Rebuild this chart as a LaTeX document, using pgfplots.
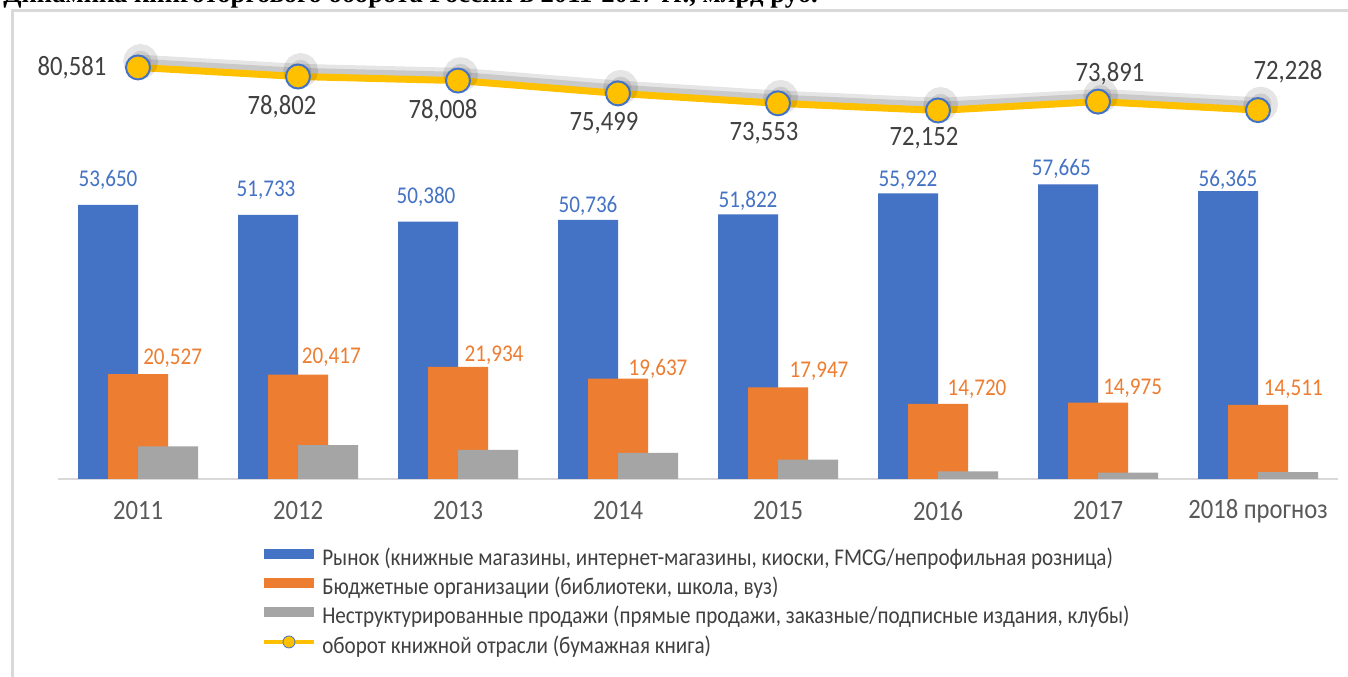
\documentclass[border=0pt]{standalone}
\usepackage{fontspec}
\setmainfont{Carlito}[FakeStretch=0.88]
\newfontfamily\titlefont{Liberation Serif}
\usepackage{pgfplots}
\pgfplotsset{compat=1.18}
\usepackage{pgfplotstable}

\definecolor{cblue}{HTML}{4472C4}
\definecolor{corange}{HTML}{ED7D31}
\definecolor{cgray}{HTML}{A5A5A5}
\definecolor{cyellow}{HTML}{FFC000}
\definecolor{ctext}{HTML}{404040}
\definecolor{ctick}{HTML}{595959}
\definecolor{cframe}{HTML}{D9D9D9}

% bars: x, value ; label: lx (bar centre), dx, dy in pt
\pgfplotstableread{
x lx y dx dy
0 -0.1875 53.650 0 18.75
1 0.8125 51.733 -1.5 18.75
2 1.8125 50.380 -1.5 18.75
3 2.8125 50.736 0 10.5
4 3.8125 51.822 0 9.75
5 4.8125 55.922 0 9.75
6 5.8125 57.665 -5 12
7 6.8125 56.365 0 8.25
}\bluetab
\pgfplotstableread{
x lx y dx dy
0 0 20.527 26 12
1 1 20.417 25 12.75
2 2 21.934 27 9
3 3 19.637 30 7.2
4 4 17.947 30.75 12.4
5 5 14.720 29.25 11
6 6 14.975 26 10.5
7 7 14.511 26.5 12
}\orangetab
\pgfplotstableread{
x y
0 6.404
1 6.652
2 5.694
3 5.126
4 3.784
5 1.510
6 1.251
7 1.352
}\graytab
\pgfplotstableread{
x y dx dy
0 80.581 -49.5 0
1 78.802 -12 -22.5
2 78.008 -11.25 -22.5
3 75.499 -10.5 -22.5
4 73.553 -10.5 -22.5
5 72.152 -10.5 -21
6 73.891 9 21
7 72.228 22.5 28.5
}\linetab

\pgfplotsset{
  barlegend/.style={legend image code/.code={\fill[##1] (0pt,0.5pt) rectangle (37.5pt,8pt);}},
  labelplot/.style={draw=none, mark=none, forget plot,
    nodes near coords, point meta=explicit,
    visualization depends on={\thisrow{dx} \as \dx},
    visualization depends on={\thisrow{dy} \as \dy},
    every node near coord/.append style={anchor=center, inner sep=0pt,
      xshift=\dx pt, yshift=\dy pt,
      /pgf/number format/fixed, /pgf/number format/fixed zerofill,
      /pgf/number format/precision=3, /pgf/number format/use comma,
      /pgf/number format/assume math mode=true}},
}

\begin{document}
\begin{tikzpicture}[x=0.75pt,y=0.75pt]
\path[clip, use as bounding box] (0,0) rectangle (1348,677);
\fill[white] (0,0) rectangle (1348,677);
\draw[cframe, line width=2.25pt] (12.5,-5) -- (12.5,666) -- (1360,666);
\node[anchor=base west, inner sep=0pt, font=\titlefont\bfseries\fontsize{20}{24}\selectfont] at (3,674) {Динамика книготоргового оборота России в 2011-2017 гг., млрд руб.};
\begin{axis}[
  at={(43.5pt,148.5pt)}, anchor=south west,
  scale only axis, width=960pt, height=325.6pt,
  xmin=-0.5, xmax=7.5, ymin=0, ymax=85,
  clip=false,
  axis x line*=bottom, axis y line=none,
  x axis line style={draw=cframe, line width=1pt, -},
  xtick={0,...,7},
  xticklabels={2011,2012,2013,2014,2015,2016,2017,2018 прогноз},
  major tick length=0pt,
  xticklabel style={anchor=center, yshift=-24pt, font=\fontsize{21}{24}\selectfont, text=ctick},
  ytick=\empty,
  legend style={at={(0.1594,-0.161)}, anchor=north west, draw=none, fill=none,
    inner sep=0pt, font=\fontsize{18}{21}\selectfont, text=ctext, row sep=5.6pt,
    nodes={inner sep=0pt, text height=12.5pt, text depth=3.5pt},
    /tikz/every odd column/.append style={column sep=5pt}},
  legend cell align=left,
]
\addplot[ybar, bar width=0.375, bar shift=-0.1875, fill=cblue, draw=none, barlegend] table[x=x,y=y] {\bluetab};
\addlegendentry{Рынок (книжные магазины, интернет-магазины, киоски, FMCG/непрофильная розница)}
\addplot[ybar, bar width=0.375, bar shift=0, fill=corange, draw=none, barlegend] table[x=x,y=y] {\orangetab};
\addlegendentry{Бюджетные организации (библиотеки, школа, вуз)}
\addplot[ybar, bar width=0.375, bar shift=0.1875, fill=cgray, draw=none, barlegend] table[x=x,y=y] {\graytab};
\addlegendentry{Неструктурированные продажи (прямые продажи, заказные/подписные издания, клубы)}
% shadow of the line
\addplot[black, opacity=0.10, line width=10pt, yshift=4.5pt, xshift=2pt, mark=*, mark size=8pt, forget plot] table[x=x,y=y] {\linetab};
\addplot[black, opacity=0.12, line width=6pt, yshift=3.5pt, xshift=1.5pt, mark=none, forget plot] table[x=x,y=y] {\linetab};
\addplot[cyellow, line width=5.25pt, mark=*, mark size=9pt,
  mark options={fill=cyellow, draw=cblue, line width=1.5pt},
  legend image code/.code={\draw[cyellow, line width=2.5pt] (0pt,4.25pt) -- (37.5pt,4.25pt);
    \draw[fill=cyellow, draw=cblue, line width=0.6pt] (18.75pt,4.25pt) circle (4.5pt);}]
  table[x=x,y=y] {\linetab};
\addlegendentry{оборот книжной отрасли (бумажная книга)}
% data labels
\addplot[labelplot, every node near coord/.append style={font=\fontsize{18}{20}\selectfont, text=cblue}] table[x=lx,y=y,meta=y] {\bluetab};
\addplot[labelplot, every node near coord/.append style={font=\fontsize{18}{20}\selectfont, text=corange}] table[x=lx,y=y,meta=y] {\orangetab};
\addplot[labelplot, every node near coord/.append style={font=\fontsize{21}{24}\selectfont, text=ctext}] table[x=x,y=y,meta=y] {\linetab};
\end{axis}
\end{tikzpicture}
\end{document}
